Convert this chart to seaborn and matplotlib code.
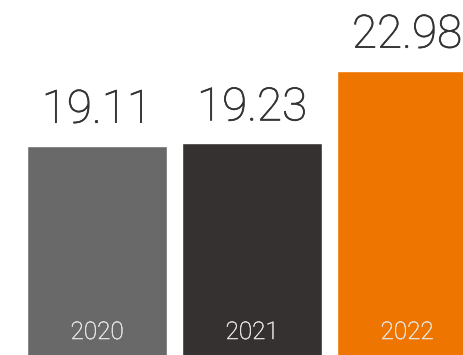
import matplotlib
matplotlib.use("Agg")
import matplotlib.pyplot as plt
import matplotlib.patheffects as pe
import seaborn as sns
import pandas as pd

years = ["2020", "2021", "2022"]
values = [19.11, 19.23, 22.98]
bar_colors = ["#696969", "#353130", "#EE7600"]

sns.set_theme(style="white")
plt.rcParams["font.family"] = ["Roboto", "DejaVu Sans"]

df = pd.DataFrame({"year": years, "value": values})

fig = plt.figure(figsize=(4.63, 3.55), dpi=100)
ax = fig.add_axes([0, 0, 1, 1])

sns.barplot(data=df, x="year", y="value", hue="year", palette=bar_colors,
            width=0.903, saturation=1, legend=False, ax=ax)

ax.set_xlim(-0.626, 2.361)
ax.set_ylim(8.31, 26.62)
ax.axis("off")

value_color = "#333333"
year_color = "#e8e8e8"
for i, (yr, v) in enumerate(zip(years, values)):
    ax.annotate(f"{v:.2f}", xy=(i, v), xytext=(0, 16.5), textcoords="offset points",
                ha="center", va="baseline", fontsize=33, fontweight="light",
                color=value_color,
                path_effects=[pe.withStroke(linewidth=0.5, foreground=value_color)])
    ax.annotate(yr, xy=(i, 8.31), xytext=(0, 11.5), textcoords="offset points",
                ha="center", va="baseline", fontsize=17.5, fontweight="light",
                color=year_color,
                path_effects=[pe.withStroke(linewidth=0.3, foreground=year_color)])

fig.savefig("out.png", dpi=100)
